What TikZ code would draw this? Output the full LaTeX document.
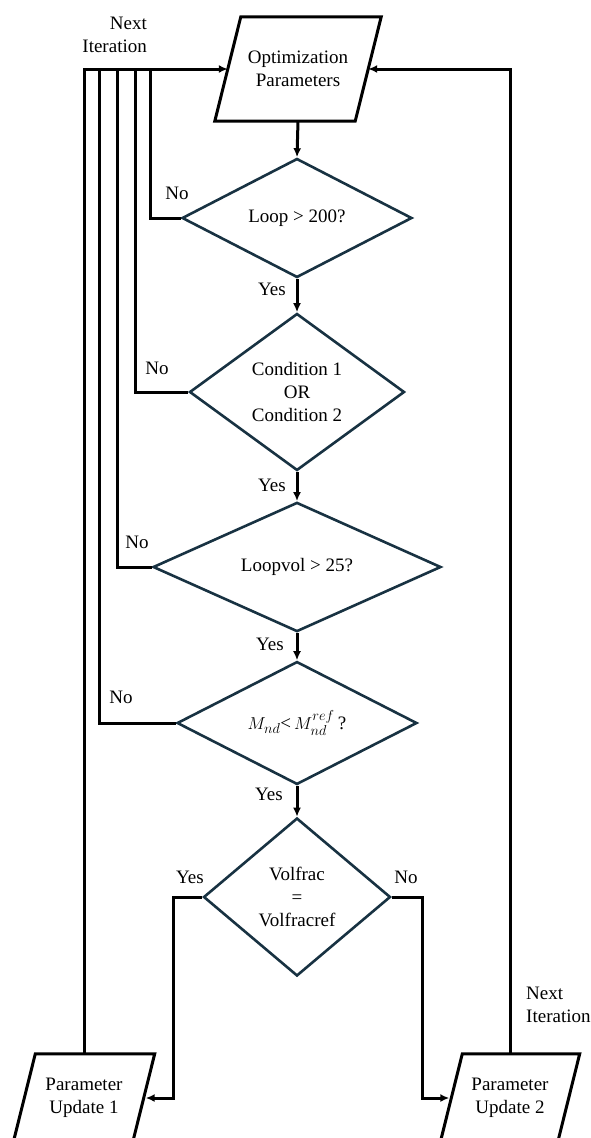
\documentclass[tikz,border=0pt]{standalone}
\usepackage{fontspec}
\setmainfont{Liberation Serif}
\newfontfamily\tnr{Liberation Serif}
\usetikzlibrary{shapes.geometric,arrows.meta,calc}
\definecolor{dnavy}{RGB}{24,50,66}
\begin{document}
\begin{tikzpicture}[x=1pt,y=-1pt,
  every node/.style={font=\tnr\fontsize{19}{23}\selectfont},
  dec/.style={shape=diamond, draw=dnavy, line width=2.6pt, inner sep=0pt, align=center},
  iotext/.style={shape=rectangle, inner sep=0pt, align=center},
  ioline/.style={draw=black, line width=3pt, line join=miter},
  conn/.style={line width=3pt, line join=miter},
  arr/.style={conn, -{Latex[length=9pt,width=8pt]}},
  lbl/.style={inner sep=0pt}
]
\useasboundingbox (0,0) rectangle (590,1138);

% process / io shapes (parallelograms drawn around their text nodes)
\node[iotext, minimum width=140pt, minimum height=104pt] (opt) at (298,69) {Optimization\\Parameters};
\node[iotext, minimum width=119pt, minimum height=88pt] (pu1) at (84,1098) {Parameter\\Update 1};
\node[iotext, minimum width=117pt, minimum height=88pt] (pu2) at (510,1098) {Parameter\\Update 2};
\draw[ioline] ($(opt.north west)+(13,0)$) -- ($(opt.north east)+(13,0)$)
  -- ($(opt.south east)+(-13,0)$) -- ($(opt.south west)+(-13,0)$) -- cycle;
\draw[ioline] ($(pu1.north west)+(11,0)$) -- ($(pu1.north east)+(11,0)$)
  -- ($(pu1.south east)+(-11,0)$) -- ($(pu1.south west)+(-11,0)$) -- cycle;
\draw[ioline] ($(pu2.north west)+(11,0)$) -- ($(pu2.north east)+(11,0)$)
  -- ($(pu2.south east)+(-11,0)$) -- ($(pu2.south west)+(-11,0)$) -- cycle;

% decisions
\node[dec, minimum width=230pt, minimum height=119pt] (d1) at (297,218) {Loop > 200?};
\node[dec, minimum width=215pt, minimum height=157pt] (d2) at (297,392) {Condition 1\\OR\\Condition 2};
\node[dec, minimum width=288pt, minimum height=119pt] (d3) at (297,567) {Loopvol > 25?};
\node[dec, minimum width=240pt, minimum height=119pt] (d4) at (297,723) {$M_{nd}$<\,$M_{nd}^{ref}$\,?};
\node[dec, minimum width=187pt, minimum height=158pt] (d5) at (297,897) {Volfrac\\=\\Volfracref};

% junctions on the feedback bus
\coordinate (j1) at (150,70);
\coordinate (j2) at (135,70);
\coordinate (j3) at (117,70);
\coordinate (j4) at (99,70);
\coordinate (cl) at (173,1098);
\coordinate (cr) at (422,1098);

% main flow
\draw[arr] (opt.south) -- (d1.north);
\draw[arr] (d1.south) -- (d2.north);
\draw[arr] (d2.south) -- (d3.north);
\draw[arr] (d3.south) -- (d4.north);
\draw[arr] (d4.south) -- (d5.north);

% feedback loops
\draw[arr] (pu1.north) |- (opt.west);
\draw[conn] (d1.west) -| (j1);
\draw[conn] (d2.west) -| (j2);
\draw[conn] (d3.west) -| (j3);
\draw[conn] (d4.west) -| (j4);
\draw[arr] (pu2.north) |- (opt.east);

% final branch
\draw[arr] (d5.west) -| (cl) -- ([xshift=2pt]pu1.east);
\draw[arr] (d5.east) -| (cr) -- ([xshift=-2pt]pu2.west);

% labels
\node[lbl] (y1) at (272,289) {Yes};
\node[lbl] (y2) at (272,485) {Yes};
\node[lbl] (y3) at (270,644) {Yes};
\node[lbl] (y4) at (269,794) {Yes};
\node[lbl] (y5) at (190,877) {Yes};
\node[lbl] (n1) at (177,193) {No};
\node[lbl] (n2) at (157,368) {No};
\node[lbl] (n3) at (137,542) {No};
\node[lbl] (n4) at (121,697) {No};
\node[lbl] (n5) at (406,877) {No};
\node[lbl, align=right, anchor=east] (nit1) at (147,35) {Next\\Iteration};
\node[lbl, align=left, anchor=west] (nit2) at (526,1005) {Next\\Iteration};
\end{tikzpicture}
\end{document}
